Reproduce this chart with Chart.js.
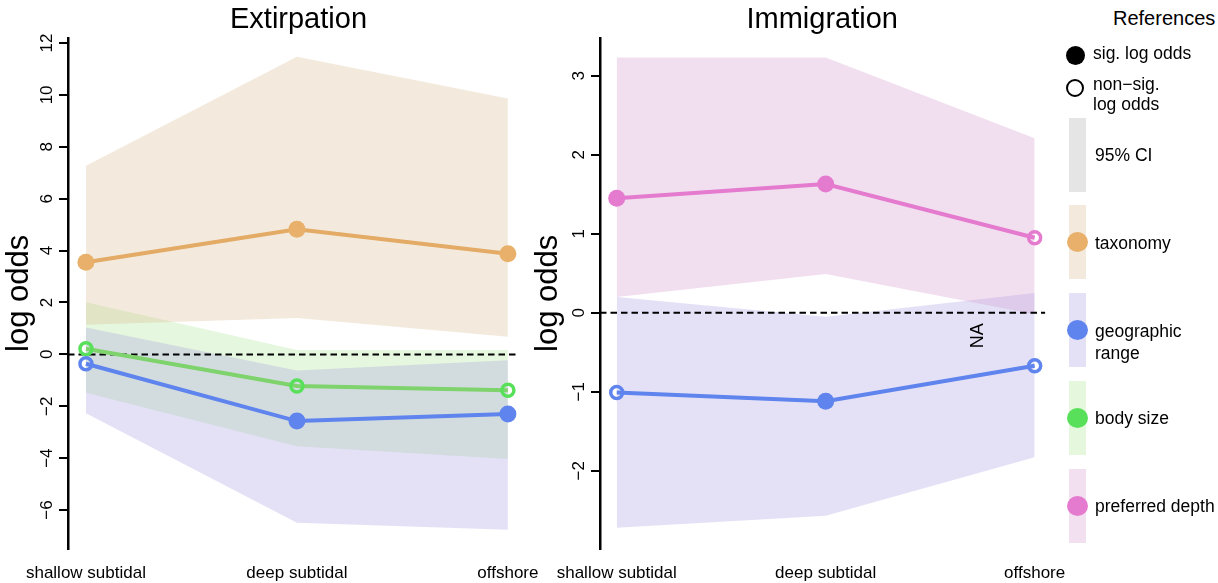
<!DOCTYPE html>
<html>
<head>
<meta charset="utf-8">
<script src="https://cdn.jsdelivr.net/npm/chart.js@4.4.1/dist/chart.umd.min.js"></script>
<style>
  body { margin: 0; background: #fff; font-family: "Liberation Sans", Arial, sans-serif; }
  #wrap { position: relative; width: 1218px; height: 583px; overflow: hidden; }
  .panel { position: absolute; top: 0; width: 560px; height: 583px; }
  #legend { position: absolute; left: 0; top: 0; }
  #legend div { position: absolute; }
  .txt { font-size: 17.5px; line-height: 20px; color: #000; white-space: nowrap; }
  .bar { width: 17px; height: 74px; }
  .dot { width: 21px; height: 20px; border-radius: 50%; }
</style>
</head>
<body>
<div id="wrap">
  <div class="panel" style="left:0"><canvas id="ext"></canvas></div>
  <div class="panel" style="left:520px"><canvas id="imm"></canvas></div>

  <div id="legend">
    <div class="txt" style="left:1113px; top:7px; font-size:20px; line-height:22px">References</div>

    <div style="left:1066px; top:46px; width:19px; height:19px; border-radius:50%; background:#000"></div>
    <div class="txt" style="left:1093px; top:43px">sig. log odds</div>

    <div style="left:1066px; top:79px; width:18px; height:18px; border-radius:50%; border:2.5px solid #000; box-sizing:border-box"></div>
    <div class="txt" style="left:1093px; top:74px">non&minus;sig.<br>log odds</div>

    <div class="bar" style="left:1069px; top:118px; background:#e5e5e5"></div>
    <div class="txt" style="left:1095px; top:145px">95% CI</div>

    <div class="bar" style="left:1069px; top:205px; background:#f3eadd"></div>
    <div class="dot" style="left:1067px; top:232px; background:#e8b06a"></div>
    <div class="txt" style="left:1095px; top:233px">taxonomy</div>

    <div class="bar" style="left:1069px; top:293px; background:#e4e1f7"></div>
    <div class="dot" style="left:1067px; top:320px; background:#5f84ee"></div>
    <div class="txt" style="left:1095px; top:320px; line-height:22px">geographic<br>range</div>

    <div class="bar" style="left:1069px; top:381px; background:#e5f8de"></div>
    <div class="dot" style="left:1067px; top:408px; background:#58e05a"></div>
    <div class="txt" style="left:1095px; top:408px">body size</div>

    <div class="bar" style="left:1069px; top:469px; background:#f2dff0"></div>
    <div class="dot" style="left:1067px; top:496px; background:#e57bcf"></div>
    <div class="txt" style="left:1095px; top:496px">preferred depth</div>
  </div>
</div>

<script>
const FONT = '"Liberation Sans", Arial, sans-serif';

// habitat categories along the x axis
const categories = ['shallow subtidal', 'deep subtidal', 'offshore'];

// y tick labels
const extTicks = [12, 10, 8, 6, 4, 2, 0, -2, -4, -6];
const immTicks = [3, 2, 1, 0, -1, -2];

// Extirpation: taxonomy
const extTaxonomy   = [3.55, 4.82, 3.88];
const extTaxonomyLo = [1.14, 1.40, 0.68];
const extTaxonomyHi = [7.27, 11.47, 9.86];
const extTaxonomySig = [true, true, true];

// Extirpation: geographic range
const extGeo   = [-0.36, -2.57, -2.30];
const extGeoLo = [-2.27, -6.49, -6.76];
const extGeoHi = [1.04, -0.62, -0.23];
const extGeoSig = [false, true, true];

// Extirpation: body size
const extBody   = [0.22, -1.22, -1.38];
const extBodyLo = [-1.48, -3.54, -4.03];
const extBodyHi = [2.01, 0.17, 0.17];
const extBodySig = [false, false, false];

// Immigration: preferred depth
const immDepth   = [1.45, 1.63, 0.95];
const immDepthLo = [0.20, 0.49, -0.02];
const immDepthHi = [3.23, 3.23, 2.21];
const immDepthSig = [true, true, false];

// Immigration: geographic range
const immGeo   = [-1.01, -1.12, -0.67];
const immGeoLo = [-2.72, -2.57, -1.83];
const immGeoHi = [0.20, -0.05, 0.25];
const immGeoSig = [false, true, false];

// "NA" note in the immigration panel (x in category units, y in log odds)
const immNote = { text: 'NA', x: 1.73, y: -0.29 };

const COLORS = {
  taxonomy: { line: '#e3ab65', point: '#e8b06a', band: 'rgba(215,185,142,0.3)' },
  geo:      { line: '#5f84ee', point: '#5f84ee', band: 'rgba(165,155,225,0.3)' },
  body:     { line: '#7fd36c', point: '#58e05a', band: 'rgba(168,228,145,0.3)' },
  depth:    { line: '#e57bcf', point: '#e57bcf', band: 'rgba(208,148,205,0.3)' }
};

function toXY(vals) {
  return vals.map((v, i) => ({ x: i, y: v }));
}

function series(vals, lo, hi, sig, col) {
  return [
    { data: toXY(hi), fill: '+1', backgroundColor: col.band, borderColor: 'rgba(0,0,0,0)',
      borderWidth: 0, pointRadius: 0, order: 5 },
    { data: toXY(lo), fill: false, borderColor: 'rgba(0,0,0,0)', borderWidth: 0,
      pointRadius: 0, order: 5 },
    { data: toXY(vals), fill: false, borderColor: col.line, borderWidth: 4,
      pointRadius: sig.map(s => s ? 8.5 : 6),
      pointBorderWidth: sig.map(s => s ? 0 : 3.5),
      pointBackgroundColor: sig.map(s => s ? col.point : 'rgba(0,0,0,0)'),
      pointBorderColor: col.point, order: 1 }
  ];
}

const fmt = v => String(v).replace('-', '\u2212');

const extrasPlugin = {
  id: 'extras',
  beforeDatasetsDraw(chart, args, opts) {
    const { ctx, chartArea, scales: { x, y } } = chart;
    const y0 = y.getPixelForValue(0);
    ctx.save();
    ctx.setLineDash([6.5, 4]);
    ctx.lineWidth = 2;
    ctx.strokeStyle = '#000';
    ctx.beginPath();
    ctx.moveTo(chartArea.left, y0);
    ctx.lineTo(x.getPixelForValue(opts.zeroEnd), y0);
    ctx.stroke();
    ctx.restore();
  },
  afterDraw(chart, args, opts) {
    const { ctx, chartArea, scales: { x, y } } = chart;
    ctx.save();
    ctx.fillStyle = '#000';
    ctx.font = '17px ' + FONT;
    ctx.textAlign = 'center';
    ctx.textBaseline = 'middle';
    y.ticks.forEach(t => {
      ctx.save();
      ctx.translate(chartArea.left - 21, y.getPixelForValue(t.value));
      ctx.rotate(-Math.PI / 2);
      ctx.fillText(fmt(t.value), 0, 0);
      ctx.restore();
    });
    if (opts.note) {
      ctx.font = '18px ' + FONT;
      ctx.translate(x.getPixelForValue(opts.note.x), y.getPixelForValue(opts.note.y));
      ctx.rotate(-Math.PI / 2);
      ctx.fillText(opts.note.text, 0, 0);
    }
    ctx.restore();
  }
};

function makeChart(id, title, datasets, ticks, yMin, yMax, xMin, xMax, axisW, titlePad, padRight, note) {
  return new Chart(document.getElementById(id), {
    type: 'line',
    data: { datasets: datasets },
    options: {
      responsive: false,
      animation: false,
      events: [],
      layout: { padding: { left: 0, right: padRight, top: 0, bottom: 0 } },
      plugins: {
        legend: { display: false },
        tooltip: { enabled: false },
        filler: { drawTime: 'beforeDatasetsDraw' },
        title: {
          display: true, text: title, fullSize: false, color: '#000',
          font: { family: FONT, size: 29, weight: 'normal', lineHeight: 1.2 },
          padding: { top: 3, bottom: 0 }
        },
        extras: { zeroEnd: 2.05, note: note }
      },
      scales: {
        x: {
          type: 'linear', min: xMin, max: xMax,
          afterBuildTicks: s => { s.ticks = categories.map((c, i) => ({ value: i })); },
          afterFit: s => { s.height = 34; },
          border: { display: false },
          grid: { display: false, drawTicks: false },
          ticks: {
            callback: v => categories[v], color: '#000', padding: 14,
            font: { family: FONT, size: 17 }, maxRotation: 0, autoSkip: false
          }
        },
        y: {
          min: yMin, max: yMax,
          afterBuildTicks: s => { s.ticks = ticks.map(v => ({ value: v })); },
          afterFit: s => { s.width = axisW; },
          border: { display: true, color: '#000', width: 2.5 },
          grid: { drawOnChartArea: false, drawTicks: true, tickLength: 9, color: '#000', lineWidth: 2 },
          ticks: { display: false },
          title: {
            display: true, text: 'log odds', color: '#000',
            font: { family: FONT, size: 31, lineHeight: 1.2 },
            padding: { top: titlePad, bottom: 0 }
          }
        }
      }
    },
    plugins: [extrasPlugin]
  });
}

function sizeCanvas(id) {
  const c = document.getElementById(id);
  c.width = 560; c.height = 583;
  c.style.width = '560px'; c.style.height = '583px';
}
sizeCanvas('ext');
sizeCanvas('imm');

makeChart('ext', 'Extirpation',
  [].concat(
    series(extTaxonomy, extTaxonomyLo, extTaxonomyHi, extTaxonomySig, COLORS.taxonomy),
    series(extGeo, extGeoLo, extGeoHi, extGeoSig, COLORS.geo),
    series(extBody, extBodyLo, extBodyHi, extBodySig, COLORS.body)
  ),
  extTicks, -7.5, 12.2, -0.085, 2.1, 68, 1, 31, null);

makeChart('imm', 'Immigration',
  [].concat(
    series(immDepth, immDepthLo, immDepthHi, immDepthSig, COLORS.depth),
    series(immGeo, immGeoLo, immGeoHi, immGeoSig, COLORS.geo)
  ),
  immTicks, -2.99, 3.48, -0.08, 2.047, 80, 10, 30, immNote);
</script>
</body>
</html>
